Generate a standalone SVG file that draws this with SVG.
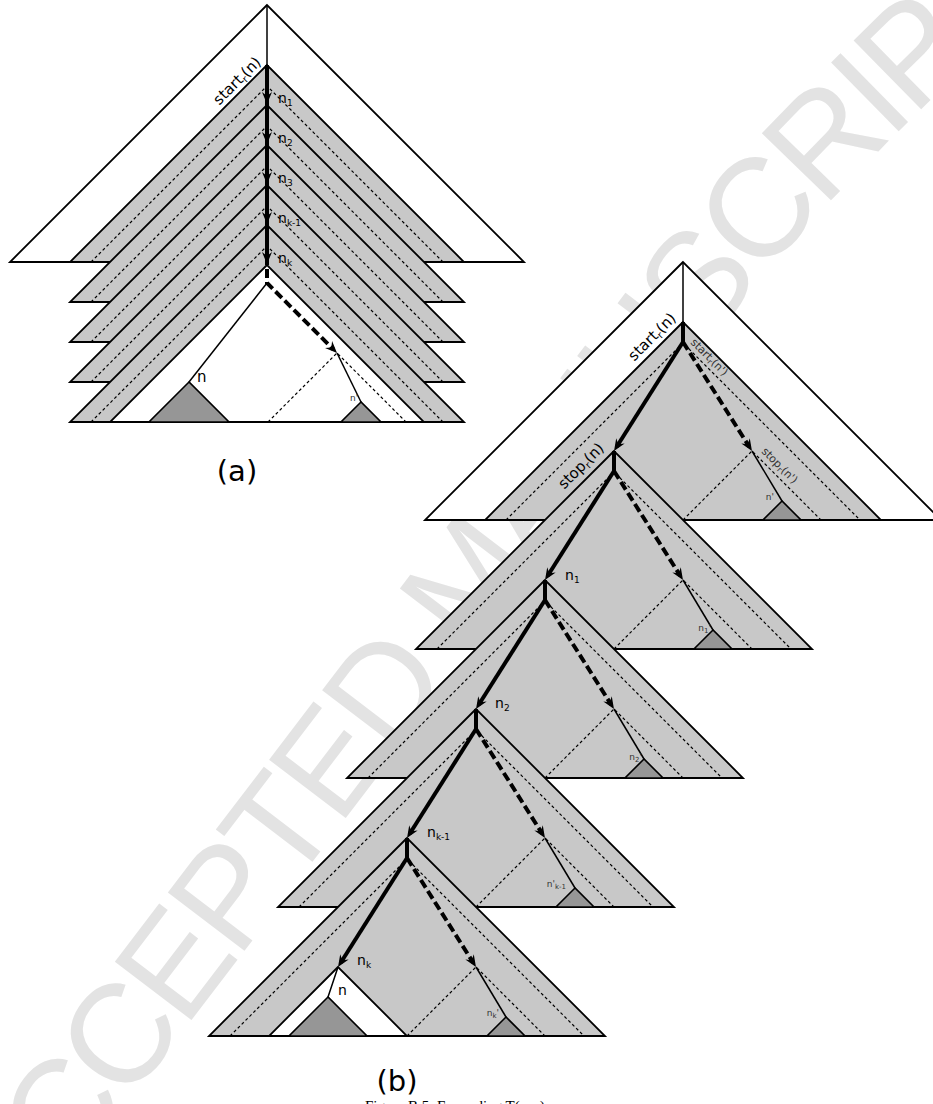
<svg xmlns="http://www.w3.org/2000/svg" width="933" height="1104" viewBox="0 0 933 1104">
<defs>
<style>
.w{fill:#fff;stroke:#000;stroke-width:1.8;stroke-linejoin:miter}
.g{fill:#c8c8c8;stroke:#000;stroke-width:1.8;stroke-linejoin:miter}
.d{fill:none;stroke:#000;stroke-width:1.2;stroke-dasharray:3 2.5}
.t{fill:#969696;stroke:#000;stroke-width:1.6;stroke-linejoin:miter}
.ln{fill:none;stroke:#000;stroke-width:1.5}
.tk{fill:none;stroke:#000;stroke-width:4}
.tkd{fill:none;stroke:#000;stroke-width:4;stroke-dasharray:9 4}
.lb{font-family:"DejaVu Sans",sans-serif;fill:#000}
.sm{font-family:"DejaVu Sans",sans-serif;fill:#333;font-size:9px}
.wm{font-family:"Liberation Sans",Arial,sans-serif;fill:#e3e3e3;font-size:140px;letter-spacing:-6px}
.cap{font-family:"Liberation Serif","Times New Roman",serif;fill:#000;font-size:15px}
</style>
<marker id="ah" viewBox="-13 -6 13 12" refX="-5" refY="0" markerWidth="13" markerHeight="12" markerUnits="userSpaceOnUse" orient="auto"><path d="M0,0 L-12,-5 L-8,0 L-12,5 Z" fill="#000"/></marker>
<path id="av" d="M0,0 L-5,-12 L0,-8 L5,-12 Z" fill="#000"/>
<path id="wmp" d="M16,1250 L700,354 Q785,243 900,130 L1090,-57" fill="none"/>
</defs>

<g id="watermark"><text class="wm"><textPath href="#wmp">ACCEPTED MANUSCRIPT</textPath></text></g>

<!-- (a) -->
<g id="a-root"><polygon class="w" points="267,5 10,262 524,262"/></g>
<g id="a-n1"><polygon class="g" points="267,65 70,262 464,262"/><polyline class="d" points="91,262 267,86 443,262"/></g>
<g id="a-n2"><polygon class="g" points="267,105 70,302 464,302"/><polyline class="d" points="91,302 267,126 443,302"/></g>
<g id="a-n3"><polygon class="g" points="267,145 70,342 464,342"/><polyline class="d" points="91,342 267,166 443,342"/></g>
<g id="a-nk1"><polygon class="g" points="267,185 70,382 464,382"/><polyline class="d" points="91,382 267,206 443,382"/></g>
<g id="a-nk"><polygon class="g" points="267,225 70,422 464,422"/><polyline class="d" points="91,422 267,246 443,422"/></g>
<g id="a-sub"><polygon class="w" points="267,265 110,422 424,422"/><polyline class="d" points="268,422 337,353 406,422"/></g>
<g id="a-n"><polygon class="t" points="189,382 149,422 229,422"/></g>
<g id="a-nprime"><polygon class="t" points="361,402 341,422 381,422"/></g>

<!-- (b) -->
<g id="b-root"><polygon class="w" points="683,262 425,520 941,520"/></g>
<g id="b-t0"><polygon class="g" points="683,322 485,520 881,520"/><polyline class="d" points="506,520 683,343 860,520"/><polyline class="d" points="683,520 752,451 821,520"/><polygon class="t" points="782,501 763,520 801,520"/></g>
<g id="b-t1"><polygon class="g" points="614,451 416,649 812,649"/><polyline class="d" points="437,649 614,472 791,649"/><polyline class="d" points="614,649 683,580 752,649"/><polygon class="t" points="713,630 694,649 732,649"/></g>
<g id="b-t2"><polygon class="g" points="545,580 347,778 743,778"/><polyline class="d" points="368,778 545,601 722,778"/><polyline class="d" points="545,778 614,709 683,778"/><polygon class="t" points="644,759 625,778 663,778"/></g>
<g id="b-t3"><polygon class="g" points="476,709 278,907 674,907"/><polyline class="d" points="299,907 476,730 653,907"/><polyline class="d" points="476,907 545,838 614,907"/><polygon class="t" points="575,888 556,907 594,907"/></g>
<g id="b-t4"><polygon class="g" points="407,838 209,1036 605,1036"/><polyline class="d" points="230,1036 407,859 584,1036"/><polyline class="d" points="407,1036 476,967 545,1036"/><polygon class="t" points="506,1017 487,1036 525,1036"/><polygon class="w" points="338,967 269,1036 407,1036"/><polygon class="t" points="328,997 289,1036 367,1036"/></g>

<g id="connectors">
<line class="ln" x1="267" y1="5" x2="267" y2="65"/>
<line class="tk" x1="267" y1="65" x2="267" y2="265"/>
<use href="#av" x="267" y="104"/><use href="#av" x="267" y="144"/><use href="#av" x="267" y="184"/><use href="#av" x="267" y="224"/><use href="#av" x="267" y="264"/>
<path class="tkd" d="M267,269 L267,283 L333.5,349.5" marker-end="url(#ah)"/>
<line class="ln" x1="267" y1="283" x2="189" y2="382"/>
<line class="ln" x1="337" y1="353" x2="361" y2="402"/>

<line class="ln" x1="683" y1="262" x2="683" y2="322"/>
<line class="tk" x1="683" y1="322" x2="683" y2="342"/>
<line class="tk" x1="683" y1="342" x2="616.7" y2="446.8" marker-end="url(#ah)"/>
<line class="tkd" x1="683" y1="342" x2="749.3" y2="446.8" marker-end="url(#ah)"/>
<line class="ln" x1="752" y1="451" x2="782" y2="501"/>

<line class="tk" x1="614" y1="451" x2="614" y2="471"/>
<line class="tk" x1="614" y1="471" x2="547.7" y2="575.8" marker-end="url(#ah)"/>
<line class="tkd" x1="614" y1="471" x2="680.3" y2="575.8" marker-end="url(#ah)"/>
<line class="ln" x1="683" y1="580" x2="713" y2="630"/>

<line class="tk" x1="545" y1="580" x2="545" y2="600"/>
<line class="tk" x1="545" y1="600" x2="478.7" y2="704.8" marker-end="url(#ah)"/>
<line class="tkd" x1="545" y1="600" x2="611.3" y2="704.8" marker-end="url(#ah)"/>
<line class="ln" x1="614" y1="709" x2="644" y2="759"/>

<line class="tk" x1="476" y1="709" x2="476" y2="729"/>
<line class="tk" x1="476" y1="729" x2="409.7" y2="833.8" marker-end="url(#ah)"/>
<line class="tkd" x1="476" y1="729" x2="542.3" y2="833.8" marker-end="url(#ah)"/>
<line class="ln" x1="545" y1="838" x2="575" y2="888"/>

<line class="tk" x1="407" y1="838" x2="407" y2="858"/>
<line class="tk" x1="407" y1="858" x2="340.7" y2="962.8" marker-end="url(#ah)"/>
<line class="tkd" x1="407" y1="858" x2="473.3" y2="962.8" marker-end="url(#ah)"/>
<line class="ln" x1="476" y1="967" x2="506" y2="1017"/>
<line class="ln" x1="338" y1="967" x2="328" y2="997"/>
</g>

<g id="labels">
<text class="lb" font-size="15" text-anchor="end" transform="translate(262,63) rotate(-45)">start<tspan font-size="10" dy="3">r</tspan><tspan dy="-3">(n)</tspan></text>
<text class="lb" font-size="14" x="278" y="103">n<tspan font-size="9" dy="3">1</tspan></text>
<text class="lb" font-size="14" x="278" y="143">n<tspan font-size="9" dy="3">2</tspan></text>
<text class="lb" font-size="14" x="278" y="183">n<tspan font-size="9" dy="3">3</tspan></text>
<text class="lb" font-size="14" x="278" y="223">n<tspan font-size="9" dy="3">k-1</tspan></text>
<text class="lb" font-size="14" x="278" y="263">n<tspan font-size="9" dy="3">k</tspan></text>
<text class="lb" font-size="15" x="197" y="382">n</text>
<text class="sm" x="350" y="401">n'</text>
<text class="lb" font-size="29" x="237" y="481" text-anchor="middle">(a)</text>

<text class="lb" font-size="15" text-anchor="end" transform="translate(677,319) rotate(-45)">start<tspan font-size="10" dy="3">r</tspan><tspan dy="-3">(n)</tspan></text>
<text class="sm" transform="translate(690,343) rotate(45)" style="font-size:11px">start<tspan style="font-size:8px" dy="2">r</tspan><tspan dy="-2">(n')</tspan></text>
<text class="sm" transform="translate(761,452) rotate(45)" style="font-size:11px">stop<tspan style="font-size:8px" dy="2">r</tspan><tspan dy="-2">(n')</tspan></text>
<text class="lb" font-size="15" text-anchor="end" transform="translate(605,449) rotate(-45)">stop<tspan font-size="10" dy="3">r</tspan><tspan dy="-3">(n)</tspan></text>

<text class="lb" font-size="14" x="565" y="580">n<tspan font-size="9" dy="3">1</tspan></text>
<text class="lb" font-size="14" x="495" y="708">n<tspan font-size="9" dy="3">2</tspan></text>
<text class="lb" font-size="14" x="427" y="837">n<tspan font-size="9" dy="3">k-1</tspan></text>
<text class="lb" font-size="14" x="357" y="965">n<tspan font-size="9" dy="3">k</tspan></text>
<text class="lb" font-size="14" x="338" y="995">n</text>

<text class="sm" x="774" y="500" text-anchor="end">n'</text>
<text class="sm" x="711" y="631" text-anchor="end">n<tspan style="font-size:7px" dy="2">1</tspan><tspan dy="-2">'</tspan></text>
<text class="sm" x="642" y="760" text-anchor="end">n<tspan style="font-size:7px" dy="2">2</tspan><tspan dy="-2">'</tspan></text>
<text class="sm" x="566" y="887" text-anchor="end">n'<tspan style="font-size:7px" dy="2">k-1</tspan></text>
<text class="sm" x="499" y="1016" text-anchor="end">n<tspan style="font-size:7px" dy="2">k</tspan><tspan dy="-2">'</tspan></text>

<text class="lb" font-size="29" x="397" y="1091" text-anchor="middle">(b)</text>
<text class="cap" x="365" y="1111">Figure B.5: Expanding T(n, r)</text>
</g>
</svg>
